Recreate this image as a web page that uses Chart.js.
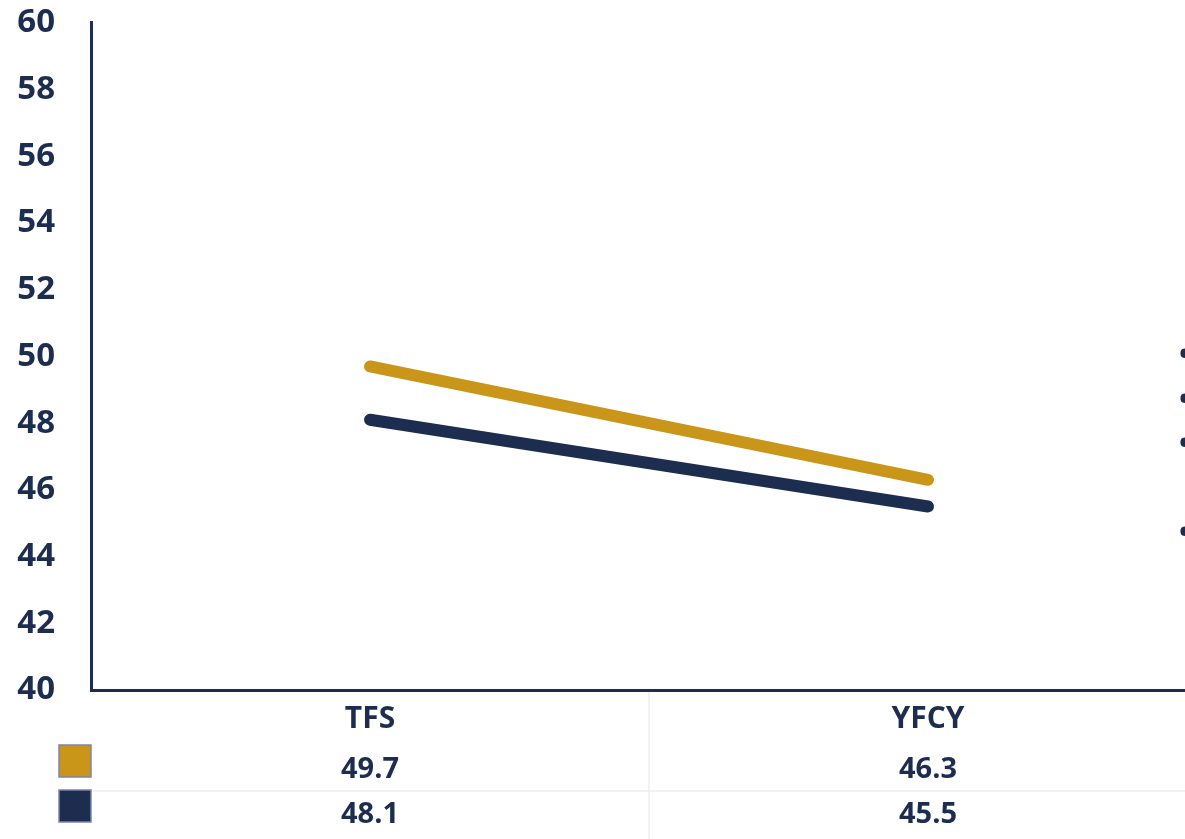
<!DOCTYPE html>
<html>
<head>
<meta charset="utf-8">
<script src="https://cdn.jsdelivr.net/npm/chart.js@4.4.1/dist/chart.umd.min.js"></script>
<style>
  html,body{margin:0;padding:0;background:#fff;overflow:hidden;width:1185px;height:839px;}
  #wrap{position:absolute;left:0;top:-33px;width:1765px;height:872px;}
  #bullets{position:absolute;left:1179px;top:331px;font:700 30px 'Open Sans';line-height:44.6px;color:#1c2d4f;white-space:pre;}
</style>
</head>
<body>
<div id="wrap"><canvas id="c" width="1765" height="872"></canvas></div>
<div id="bullets">•
•
•

•</div>
<script>
/* data */
const categories = ['TFS', 'YFCY', ''];
const seriesGold = [49.7, 46.3, null];
const seriesNavy = [48.1, 45.5, null];
const yTicks = {min:40, max:60, step:2};

const NAVY = '#1c2d4f', GOLD = '#c9961a';
const FONT = "'Open Sans'";

// data table under the x axis (values + legend swatches)
const tablePlugin = {
  id:'dataTable',
  afterDraw(chart){
    const ctx = chart.ctx, xs = chart.scales.x, area = chart.chartArea;
    const rowY = [area.bottom + 80, area.bottom + 125];
    ctx.save();
    // faint table grid
    ctx.strokeStyle = '#eeeeee'; ctx.lineWidth = 1.5;
    const sep = (xs.getPixelForValue(0) + xs.getPixelForValue(1)) / 2;
    ctx.beginPath(); ctx.moveTo(sep, area.bottom + 2); ctx.lineTo(sep, chart.height); ctx.stroke();
    ctx.beginPath(); ctx.moveTo(area.left, area.bottom + 101); ctx.lineTo(chart.width, area.bottom + 101); ctx.stroke();
    chart.data.datasets.forEach((ds, i) => {
      // legend key
      ctx.fillStyle = ds.borderColor;
      ctx.strokeStyle = '#7d83ae'; ctx.lineWidth = 1.5;
      ctx.fillRect(59, rowY[i] - 25, 32, 32);
      ctx.strokeRect(59, rowY[i] - 25, 32, 32);
      // values
      ctx.fillStyle = NAVY;
      ctx.font = `700 29px ${FONT}`;
      ctx.textAlign = 'center'; ctx.textBaseline = 'middle';
      ds.data.forEach((v, j) => {
        if (v == null) return;
        ctx.fillText(v.toFixed(1), xs.getPixelForValue(j), rowY[i]);
      });
    });
    ctx.restore();
  }
};

new Chart(document.getElementById('c'), {
  type:'line',
  data:{ labels:categories, datasets:[
    {label:'Gold', data:seriesGold, borderColor:GOLD, backgroundColor:GOLD, borderWidth:12, borderCapStyle:'round', pointRadius:0, tension:0, spanGaps:false},
    {label:'Navy', data:seriesNavy, borderColor:NAVY, backgroundColor:NAVY, borderWidth:12, borderCapStyle:'round', pointRadius:0, tension:0, spanGaps:false}
  ]},
  options:{
    responsive:false, animation:false, devicePixelRatio:1,
    layout:{padding:{top:22, left:0, right:0, bottom:0}},
    plugins:{legend:{display:false}, tooltip:{enabled:false}},
    scales:{
      x:{
        offset:true,
        grid:{display:false, drawTicks:false},
        border:{display:true, color:NAVY, width:3},
        ticks:{color:NAVY, padding:11, font:{family:FONT, size:30, weight:'700'}, maxRotation:0, autoSkip:false},
        afterFit(s){ s.height = 149; }
      },
      y:{
        min:yTicks.min, max:yTicks.max,
        grid:{display:false, drawTicks:false},
        border:{display:true, color:NAVY, width:3},
        ticks:{stepSize:yTicks.step, color:NAVY, padding:36, font:{family:FONT, size:33, weight:'700'}},
        afterFit(s){ s.width = 91; }
      }
    }
  },
  plugins:[tablePlugin]
});
</script>
</body>
</html>
